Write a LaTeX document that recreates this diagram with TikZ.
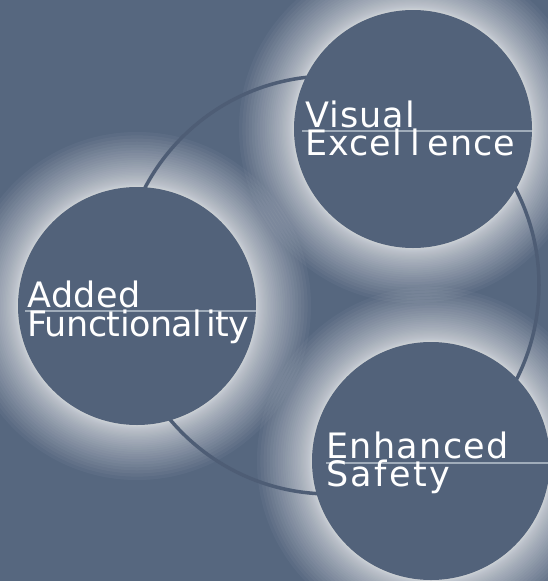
\documentclass[tikz,border=0pt]{standalone}
\usepackage{fontspec}
\setmainfont{DejaVu Sans}
\definecolor{bgcol}{RGB}{86,103,127}
\definecolor{bubblecol}{RGB}{82,98,122}
\definecolor{ringcol}{RGB}{78,93,117}
\definecolor{rulecol}{RGB}{160,172,186}
\tikzset{
  bubble/.style={circle, fill=bubblecol, inner sep=0pt, minimum size=238pt},
  ringnode/.style={circle, draw=ringcol, line width=3.5pt, inner sep=0pt, minimum size=418pt},
  lbl/.style={anchor=base west, inner sep=0pt, text=white,
    font=\fontsize{35}{35}\selectfont\addfontfeature{LetterSpace=#1}},
  rulel/.style={draw=rulecol, line width=1.6pt},
}
\newcommand{\glowat}[2]{%
  \foreach \i in {1,...,40}{%
    \fill[white, opacity=0.04] (#1) circle ({#2+55*(\i/40)^2.5});
  }%
}
\begin{document}
\begin{tikzpicture}[x=1pt, y=-1pt]
\useasboundingbox (0,0) rectangle (548,581);
\fill[bgcol] (0,0) rectangle (548,581);
% glows
\glowat{413,129}{119}
\glowat{137,306}{119}
\glowat{431,461}{119}
% ring
\node[ringnode] (ring) at (330,285) {};
% bubbles
\node[bubble] (vis) at (413,129) {};
\node[bubble] (add) at (137,306) {};
\node[bubble] (enh) at (431,461) {};
% rules
\coordinate (r1) at (302,131);
\coordinate (r2) at (25,311);
\coordinate (r3) at (326,463);
\draw[rulel] (r1) -- (r1 -| vis.east);
\draw[rulel] (r2) -- (r2 -| add.east);
\draw[rulel] (r3) -- (r3 -| enh.east);
% labels
\node[lbl=3] (vis1) at (305,127) {Visual};
\node[lbl=3] (vis2) at (305,155) {Excel\kern8pt l\kern8pt ence};
\node[lbl=1.5] (add1) at (27,307) {Added};
\node[lbl=-1.5] (add2) at (27,336) {Functional\kern4pt ity};
\node[lbl=4] (enh1) at (326,458) {Enhanced};
\node[lbl=7] (enh2) at (326,486) {Safety};
\end{tikzpicture}
\end{document}
